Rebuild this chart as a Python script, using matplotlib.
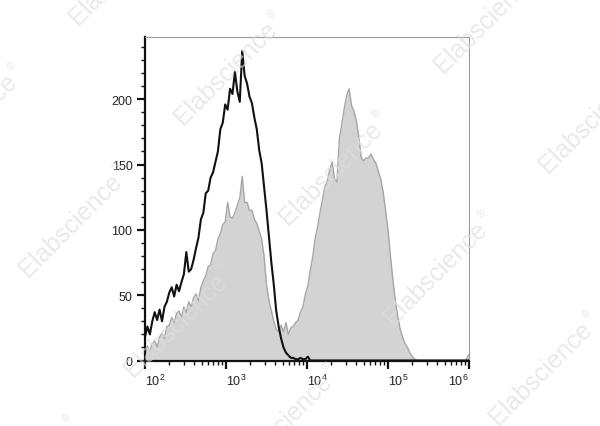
import numpy as np
import matplotlib
matplotlib.use("Agg")
import matplotlib.pyplot as plt
from matplotlib.ticker import FixedLocator, NullFormatter, LogLocator

plt.rcParams['font.family'] = ['Liberation Sans', 'DejaVu Sans']
plt.rcParams['mathtext.fontset'] = 'custom'
plt.rcParams['mathtext.rm'] = 'Liberation Sans'

# ---- data (log10 bin grid, counts) ----
log_start = 2.0
log_step = 0.03

control_counts = [
    18, 26, 20, 30, 37, 31, 39, 30, 41, 45,
    52, 56, 49, 58, 53, 60, 66, 83, 68, 70,
    77, 86, 94, 108, 113, 128, 130, 140, 144, 152,
    160, 177, 182, 196, 192, 208, 204, 221, 206, 198,
    237, 218, 212, 202, 197, 186, 177, 161, 151, 133,
    115, 95, 75, 58, 38, 26, 17, 10, 6, 4,
    2, 2, 1, 1, 2, 1, 1, 3, 0, 0,
    0, 0, 0, 0, 0, 0, 0, 0, 0, 0,
    0, 0, 0, 0, 0, 0, 0, 0, 0, 0,
    0, 0, 0, 0, 0, 0, 0, 0, 0, 0,
    0, 0, 0, 0, 0, 0, 0, 0, 0, 0,
    0, 0, 0, 0, 0, 0, 0, 0, 0, 0,
    0, 0, 0, 0, 0, 0, 0, 0, 0, 0,
    0, 0, 0, 0, 0,
]

stained_counts = [
    6, 11, 7, 13, 15, 10, 18, 21, 17, 26,
    27, 33, 29, 36, 38, 33, 41, 37, 45, 41,
    48, 51, 46, 56, 61, 65, 72, 73, 82, 84,
    93, 97, 104, 106, 121, 110, 109, 113, 119, 124,
    141, 121, 121, 115, 115, 108, 105, 99, 93, 80,
    58, 46, 38, 30, 24, 22, 27, 22, 29, 20,
    25, 26, 29, 31, 37, 41, 51, 57, 69, 79,
    93, 102, 113, 123, 133, 137, 146, 152, 139, 137,
    170, 181, 193, 203, 208, 195, 191, 183, 171, 155,
    153, 155, 155, 158, 154, 151, 145, 139, 129, 115,
    100, 80, 62, 46, 34, 24, 18, 13, 10, 6,
    3, 1, 0, 0, 0, 0, 0, 0, 0, 0,
    0, 0, 0, 0, 0, 0, 0, 0, 0, 0,
    0, 0, 0, 4, 5,
]

y_ticks = [0, 50, 100, 150, 200]
x_ticks = [1e2, 1e3, 1e4, 1e5, 1e6]
x_tick_labels = [r'$\mathregular{10^{2}}$', r'$\mathregular{10^{3}}$',
                 r'$\mathregular{10^{4}}$', r'$\mathregular{10^{5}}$',
                 r'$\mathregular{10^{6}}$']

n = len(control_counts)
x = 10 ** (log_start + log_step * np.arange(n))

# ---- figure ----
fig = plt.figure(figsize=(6.0, 4.27), dpi=100)
ax = fig.add_axes([145 / 600, 1 - 361.5 / 427, 324 / 600, 324 / 427])

ax.fill_between(x, stained_counts, 0, color='#d3d3d3', lw=0, zorder=1)
ax.plot(x, stained_counts, color='#a6a6a6', lw=1.0, zorder=2)
ax.plot(x, control_counts, color='#111111', lw=1.5, zorder=3)

ax.set_xscale('log')
ax.set_xlim(1e2, 1e6)
ax.set_ylim(0, 248)

ax.xaxis.set_major_locator(FixedLocator(x_ticks))
ax.set_xticklabels(x_tick_labels)
ax.xaxis.set_minor_locator(LogLocator(base=10, subs=np.arange(2, 10)))
ax.xaxis.set_minor_formatter(NullFormatter())
ax.set_yticks(y_ticks)
ax.yaxis.set_minor_locator(FixedLocator(np.arange(0, 250, 10)))

ax.tick_params(axis='both', which='major', direction='out', length=6,
               width=1.6, color='#111111', labelsize=9, labelcolor='#222222')
ax.tick_params(axis='both', which='minor', direction='out', length=3,
               width=1.0, color='#111111')
ax.tick_params(axis='x', which='major', pad=3)
ax.tick_params(axis='y', which='major', pad=3)

labels = ax.get_xticklabels()
for i, lab in enumerate(labels):
    lab.set_ha('right' if i == len(labels) - 1 else 'left')

for s in ['left', 'bottom']:
    ax.spines[s].set_color('#111111')
    ax.spines[s].set_linewidth(1.6)
for s in ['top', 'right']:
    ax.spines[s].set_color('#9a9a9a')
    ax.spines[s].set_linewidth(0.8)

# ---- watermark lattice ----
p0 = np.array([226.0, 73.0])
va = np.array([105.0, 100.0])
vb = np.array([155.0, -152.0])
d = np.array([np.cos(np.radians(45)), -np.sin(np.radians(45))])
perp = np.array([-np.sin(np.radians(45)), -np.cos(np.radians(45))])
for i in range(-3, 5):
    for j in range(-3, 4):
        c = p0 + i * va + j * vb
        if -90 < c[0] < 690 and -90 < c[1] < 500:
            fig.text(c[0] / 600, 1 - c[1] / 427, 'Elabscience', fontsize=18,
                     rotation=45, ha='center', va='center', color='#dedede',
                     alpha=0.65, zorder=10, rotation_mode='anchor')
            r = c + 74 * d + 9 * perp
            fig.text(r[0] / 600, 1 - r[1] / 427, '®', fontsize=8,
                     rotation=45, ha='center', va='center', color='#dedede',
                     alpha=0.65, zorder=10, rotation_mode='anchor')

fig.savefig('out.png', dpi=100)
